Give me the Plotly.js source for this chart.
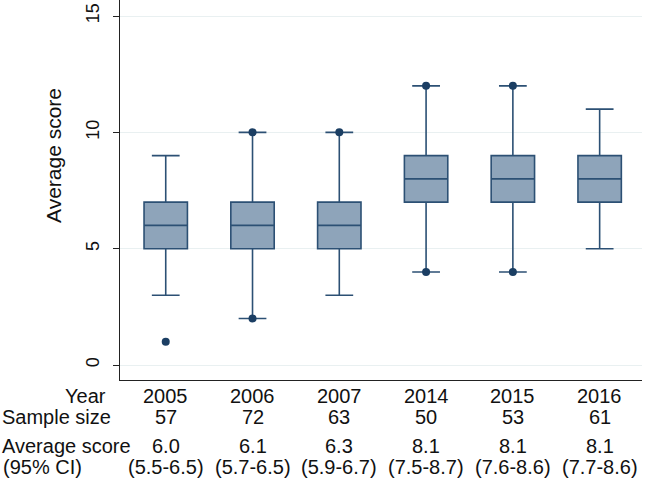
<!DOCTYPE html>
<html>
<head>
<meta charset="utf-8">
<script src="https://cdn.plot.ly/plotly-3.0.1.min.js"></script>
<style>
  body { margin: 0; background: #fff; }
  #chart { width: 646px; height: 480px; }
</style>
</head>
<body>
<div id="chart"></div>
<script>
// box statistics per survey year
var years = ['2005', '2006', '2007', '2014', '2015', '2016'];
var q1 = [5, 5, 5, 7, 7, 7];
var median = [6, 6, 6, 8, 8, 8];
var q3 = [7, 7, 7, 9, 9, 9];
var lowerFence = [3, 2, 3, 4, 4, 5];
var upperFence = [9, 10, 10, 12, 12, 11];

// single dots
var dotYear = ['2005', '2006', '2006', '2007', '2014', '2014', '2015', '2015'];
var dotValue = [1, 2, 10, 10, 4, 12, 4, 12];

// table under the chart
var sampleSize = ['57', '72', '63', '50', '53', '61'];
var avgScore = ['6.0', '6.1', '6.3', '8.1', '8.1', '8.1'];
var ci95 = ['(5.5-6.5)', '(5.7-6.5)', '(5.9-6.7)', '(7.5-8.7)', '(7.6-8.6)', '(7.7-8.6)'];

var txtFont = { family: 'Liberation Sans, Arial, sans-serif', size: 20, color: '#111' };

var boxes = {
  type: 'box',
  x: years,
  q1: q1,
  median: median,
  q3: q3,
  lowerfence: lowerFence,
  upperfence: upperFence,
  boxpoints: false,
  width: 0.5,
  whiskerwidth: 0.64,
  fillcolor: '#8ea4ba',
  line: { color: '#2c5074', width: 1.6 },
  hoverinfo: 'y'
};

var dots = {
  type: 'scatter',
  mode: 'markers',
  x: dotYear,
  y: dotValue,
  marker: { color: '#1b3e63', size: 8 },
  hoverinfo: 'y'
};

var notes = [];
// row labels
notes.push({ text: 'Year', xref: 'paper', yref: 'paper', x: 0, y: 0, xanchor: 'right', yanchor: 'middle', xshift: -12, yshift: -16, showarrow: false, font: txtFont });
notes.push({ text: 'Sample size', xref: 'paper', yref: 'paper', x: 0, y: 0, xanchor: 'left', yanchor: 'middle', xshift: -120, yshift: -37, showarrow: false, font: txtFont });
notes.push({ text: 'Average score', xref: 'paper', yref: 'paper', x: 0, y: 0, xanchor: 'left', yanchor: 'middle', xshift: -120, yshift: -66, showarrow: false, font: txtFont });
notes.push({ text: '(95% CI)', xref: 'paper', yref: 'paper', x: 0, y: 0, xanchor: 'left', yanchor: 'middle', xshift: -119, yshift: -87, showarrow: false, font: txtFont });

// one column per year, placed by category index
var rows = [[years, -16], [sampleSize, -37], [avgScore, -66], [ci95, -87]];
rows.forEach(function (r) {
  for (var i = 0; i < years.length; i++) {
    notes.push({ text: r[0][i], xref: 'x', yref: 'paper', x: i, y: 0, xanchor: 'center', yanchor: 'middle', yshift: r[1], showarrow: false, font: txtFont });
  }
});

// y axis title
notes.push({ text: 'Average score', textangle: -90, xref: 'paper', yref: 'paper', x: 0, y: 1, xanchor: 'center', yanchor: 'middle', xshift: -67, yshift: -156, showarrow: false, font: { family: 'Liberation Sans, Arial, sans-serif', size: 21, color: '#111' } });

var layout = {
  width: 646,
  height: 480,
  margin: { l: 120, r: 4, t: 0, b: 100 },
  paper_bgcolor: '#fff',
  plot_bgcolor: '#fff',
  showlegend: false,
  xaxis: {
    type: 'category',
    range: [-0.527, 5.488],
    showticklabels: false,
    ticks: '',
    showgrid: false,
    showline: true,
    linecolor: '#222',
    linewidth: 1.3,
    fixedrange: true
  },
  yaxis: {
    range: [-0.645, 15.69],
    tickvals: [0, 5, 10, 15],
    ticks: 'outside',
    ticklen: 6,
    tickcolor: '#222',
    tickangle: -90,
    ticklabelstandoff: 7,
    tickfont: { family: 'Liberation Sans, Arial, sans-serif', size: 18, color: '#111' },
    showgrid: true,
    gridcolor: '#e9f0f1',
    zeroline: false,
    showline: true,
    linecolor: '#222',
    linewidth: 1.3,
    fixedrange: true
  },
  annotations: notes
};

Plotly.newPlot('chart', [boxes, dots], layout, { displayModeBar: false, staticPlot: true });
</script>
</body>
</html>
